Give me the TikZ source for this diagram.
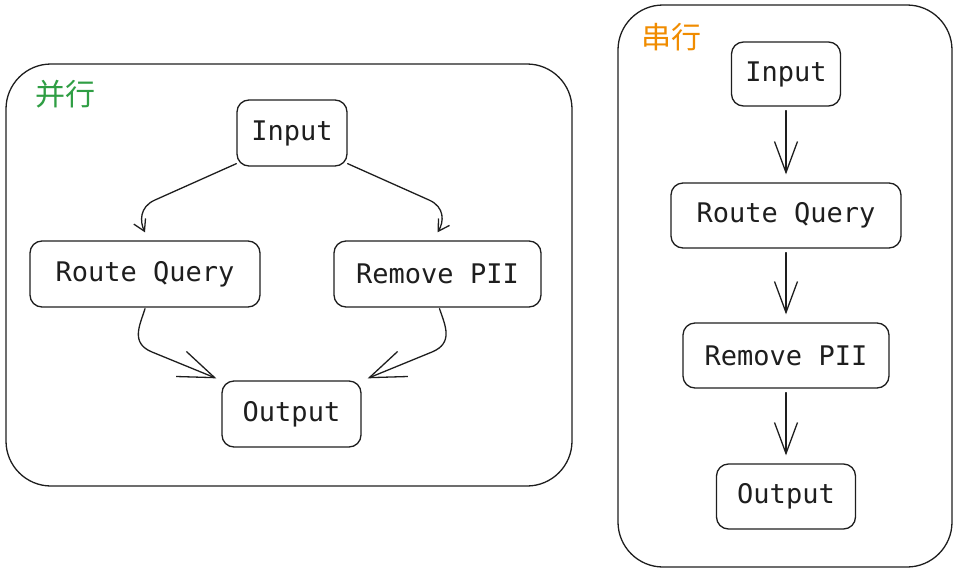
\documentclass[tikz,border=0pt]{standalone}
\usepackage{fontspec}
\setmonofont{DejaVu Sans Mono}
\newfontfamily\cjk{Noto Sans CJK SC}
\usetikzlibrary{arrows.meta}
\definecolor{ink}{HTML}{1E1E1E}
\definecolor{grn}{HTML}{2F9E44}
\definecolor{org}{HTML}{F08C00}
\begin{document}
\begin{tikzpicture}[x=1pt,y=-1pt,
  box/.style={draw=ink, line width=1.3pt, rounded corners=12pt, inner sep=0pt,
    font=\ttfamily\fontsize{27}{30}\selectfont, text=ink},
  frame/.style={draw=ink, line width=1.3pt, rounded corners=45pt},
  grp/.style={font=\cjk\fontsize{30}{32}\selectfont, inner sep=0pt},
  conn/.style={draw=ink, line width=1.3pt, line cap=round, line join=round},
  smallhead/.style={-{Straight Barb[length=11pt,width=13pt,line width=1.3pt]}},
  bighead/.style={-{Straight Barb[length=36pt,width=27pt,line width=1.3pt]}},
  vhead/.style={-{Straight Barb[length=31pt,width=23pt,line width=1.3pt]}}]
\useasboundingbox (0,0) rectangle (967,576);
% frames
\draw[frame] (6,64) rectangle (572,486);
\draw[frame] (618,5) rectangle (952,567);
\node[grp, text=grn] (lblL) at (65,94) {并行};
\node[grp, text=org] (lblR) at (671,37) {串行};
% left: parallel
\node[box, minimum width=110pt, minimum height=66pt] (inL) at (292,133) {Input};
\node[box, minimum width=230pt, minimum height=66pt] (rqL) at (145,274) {Route Query};
\node[box, minimum width=207pt, minimum height=66pt] (rpL) at (437.5,274) {Remove PII};
\node[box, minimum width=139pt, minimum height=66pt] (outL) at (291.5,414) {Output};
\draw[conn, smallhead] ([yshift=3pt]inL.south west) -- (155,200)
  .. controls (139,207) and (140,222) .. ([yshift=8pt]rqL.north);
\draw[conn, smallhead] ([yshift=3pt]inL.south east) -- (429,200)
  .. controls (445,207) and (444,222) .. ([yshift=8pt]rpL.north);
\draw[conn, bighead] ([yshift=-1pt]rqL.south)
  .. controls (140,325) and (130,343) .. (152,352) -- ([xshift=-5pt,yshift=2pt]outL.north west);
\draw[conn, bighead] ([xshift=2pt,yshift=-1pt]rpL.south)
  .. controls (445,325) and (454,343) .. (432,352) -- ([xshift=6pt,yshift=2pt]outL.north east);
% right: serial
\node[box, minimum width=109pt, minimum height=64pt] (inR) at (786,74) {Input};
\node[box, minimum width=230pt, minimum height=65pt] (rqR) at (786,215.5) {Route Query};
\node[box, minimum width=206pt, minimum height=65pt] (rpR) at (786,355.5) {Remove PII};
\node[box, minimum width=139pt, minimum height=65pt] (outR) at (786,496.5) {Output};
\draw[conn, vhead] ([yshift=-4pt]inR.south) -- ([yshift=8pt]rqR.north);
\draw[conn, vhead] ([yshift=-4pt]rqR.south) -- ([yshift=8pt]rpR.north);
\draw[conn, vhead] ([yshift=-4pt]rpR.south) -- ([yshift=8pt]outR.north);
\end{tikzpicture}
\end{document}
